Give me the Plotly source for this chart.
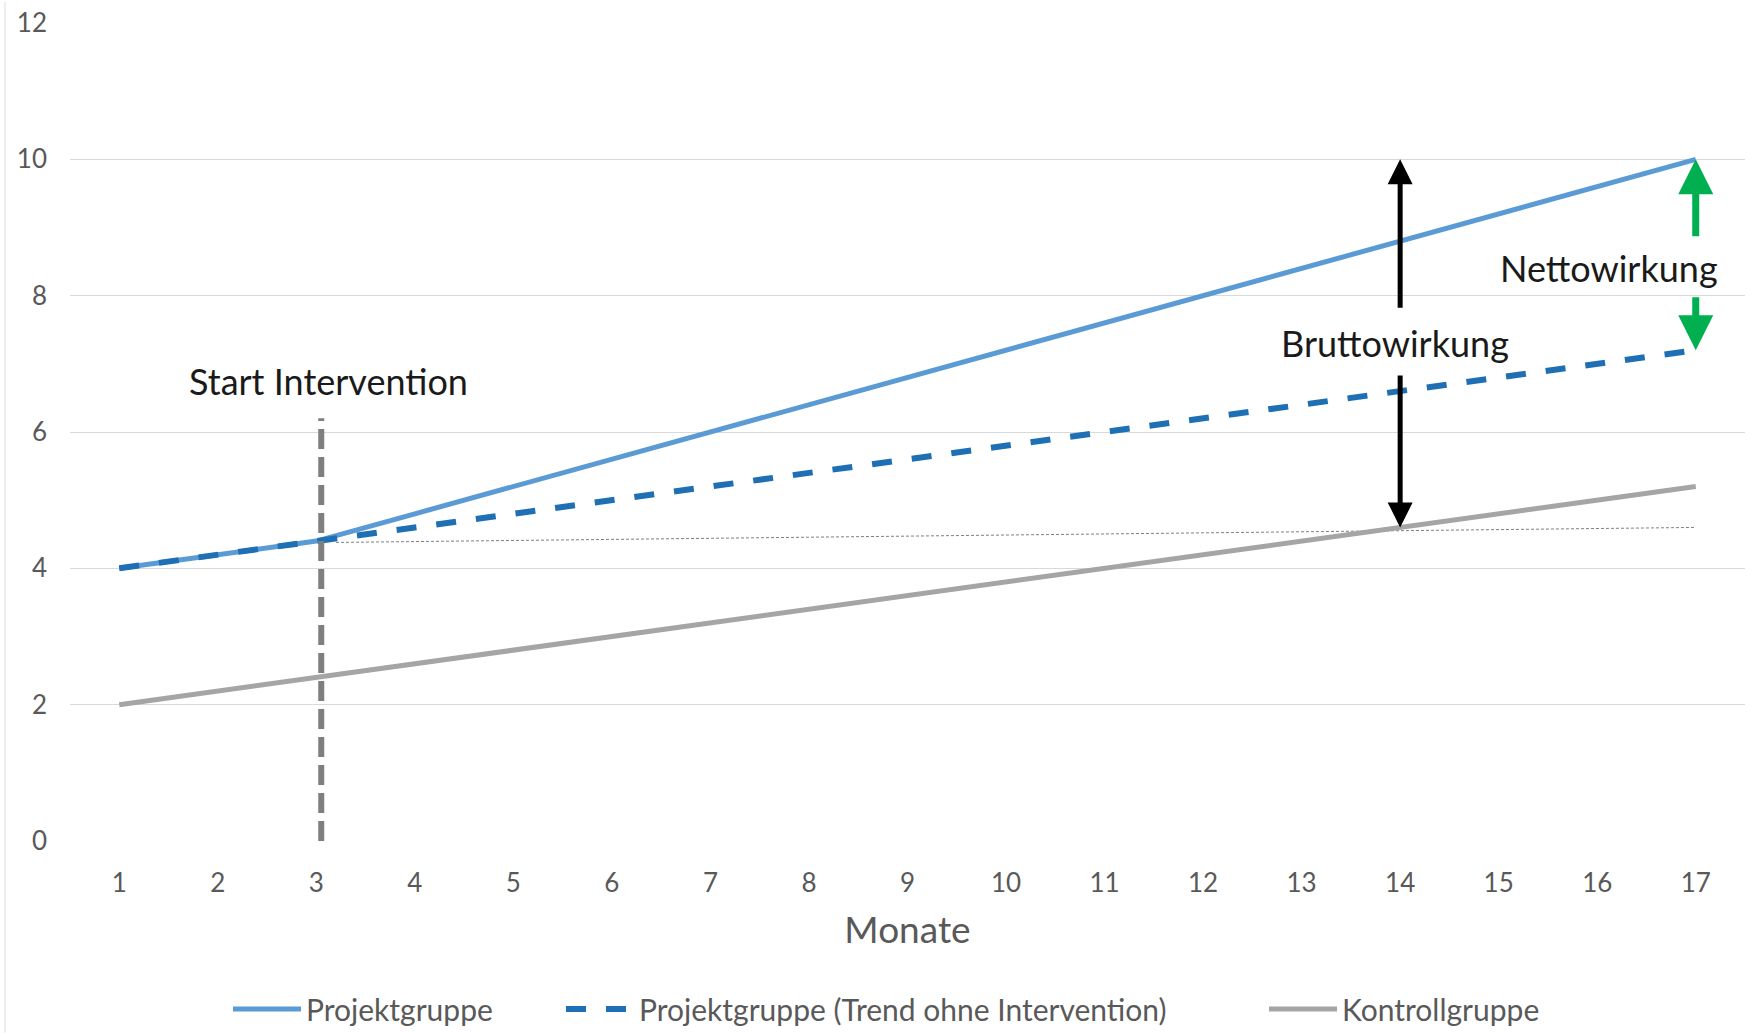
import plotly.graph_objects as go

# Months on the x axis
monate = list(range(1, 18))

# Series values per month
projektgruppe = [4.0, 4.2, 4.4, 4.8, 5.2, 5.6, 6.0, 6.4, 6.8, 7.2, 7.6, 8.0, 8.4, 8.8, 9.2, 9.6, 10.0]
trend_ohne = [4.0, 4.2, 4.4, 4.6, 4.8, 5.0, 5.2, 5.4, 5.6, 5.8, 6.0, 6.2, 6.4, 6.6, 6.8, 7.0, 7.2]
kontrollgruppe = [2.0, 2.2, 2.4, 2.6, 2.8, 3.0, 3.2, 3.4, 3.6, 3.8, 4.0, 4.2, 4.4, 4.6, 4.8, 5.0, 5.2]

# Thin reference line from the intervention start
ref_x = [3.2, 17]
ref_y = [4.38, 4.6]

# Intervention marker and effect arrows
start_monat = 3
start_top = 6.2
brutto_x = 14
brutto_top, brutto_bottom = 10.0, 4.6
brutto_label_y = 7.3
netto_x = 17
netto_top, netto_bottom = 10.0, 7.2
netto_label_y = 8.4

FONT = "Lato"
GRAY_TXT = "#595959"
ML, MR, MT, MB = 70, 6, 21, 192
W, H = 1751, 1033

fig = go.Figure()

fig.add_trace(go.Scatter(
    x=ref_x, y=ref_y, mode="lines", showlegend=False, hoverinfo="skip",
    line=dict(color="#7f7f7f", width=1, dash="3px,2px"),
))
fig.add_trace(go.Scatter(
    x=monate, y=kontrollgruppe, mode="lines", name="Kontrollgruppe",
    line=dict(color="#a5a5a5", width=5), legend="legend3",
))
fig.add_trace(go.Scatter(
    x=monate, y=projektgruppe, mode="lines", name="Projektgruppe",
    line=dict(color="#5b9bd5", width=5), legend="legend",
))
fig.add_trace(go.Scatter(
    x=monate, y=trend_ohne, mode="lines", name="Projektgruppe (Trend ohne Intervention)",
    line=dict(color="#1f6fb4", width=6, dash="20px,20px"), legend="legend2",
))

# Vertical dashed marker at the start of the intervention
fig.add_shape(
    type="line", xref="x", yref="y",
    x0=start_monat + 0.05, x1=start_monat + 0.05, y0=0, y1=start_top,
    line=dict(color="#7f7f7f", width=6, dash="20px,8px"),
)
# Faint outer chart border on the left
fig.add_shape(
    type="line", xref="paper", yref="paper",
    x0=(5 - ML) / (W - ML - MR), x1=(5 - ML) / (W - ML - MR),
    y0=-MB / (H - MT - MB), y1=1 + MT / (H - MT - MB),
    line=dict(color="#e8e8e8", width=1.5),
)

LBL = dict(family=FONT, size=36, color="#1a1a1a")
annotations = [
    dict(x=start_monat + 0.12, y=6.75, text="Start Intervention", showarrow=False, font=LBL),
    dict(x=brutto_x - 0.05, y=brutto_label_y, text="Bruttowirkung", showarrow=False, font=LBL),
    dict(x=16.12, y=netto_label_y, text="Nettowirkung", showarrow=False, font=LBL),
]

# Effect arrows (split around their labels)
arrow_specs = [
    (brutto_x, 7.8, brutto_x, brutto_top, "#000000", 5),
    (brutto_x, 6.85, brutto_x, brutto_bottom, "#000000", 5),
    (netto_x, 8.85, netto_x, netto_top, "#00b050", 7),
    (netto_x, 8.0, netto_x, netto_bottom, "#00b050", 7),
]
for ax, ay, x, y, col, w in arrow_specs:
    annotations.append(dict(
        x=x, y=y, ax=ax, ay=ay, xref="x", yref="y", axref="x", ayref="y",
        showarrow=True, arrowhead=2, arrowsize=1.0, arrowwidth=w, arrowcolor=col,
        standoff=0, startstandoff=0, text="",
    ))

# One legend per entry, placed side by side along the bottom
def legend_at(px):
    return dict(
        orientation="h", xref="container", yref="container",
        x=(px - 6) / W, xanchor="left", y=(H - 1009) / H, yanchor="middle",
        font=dict(family=FONT, size=30, color=GRAY_TXT),
        itemwidth=68, bgcolor="rgba(0,0,0,0)",
    )

fig.update_layout(
    width=W, height=H,
    margin=dict(l=ML, r=MR, t=MT, b=MB),
    paper_bgcolor="white", plot_bgcolor="white",
    font=dict(family=FONT, color=GRAY_TXT),
    annotations=annotations,
    legend=legend_at(234),
    legend2=legend_at(567),
    legend3=legend_at(1270),
    showlegend=True,
)

fig.update_xaxes(
    range=[0.5, 17.5], tickmode="array", tickvals=monate,
    showgrid=False, zeroline=False, showline=False,
    tickfont=dict(family=FONT, size=26, color=GRAY_TXT),
    ticklabelstandoff=24,
    title=dict(text="Monate", font=dict(family=FONT, size=37, color=GRAY_TXT), standoff=20),
)
fig.update_yaxes(
    range=[0, 12], dtick=2, tick0=0,
    showgrid=True, gridcolor="#d9d9d9", gridwidth=1,
    zeroline=False, showline=False,
    tickfont=dict(family=FONT, size=26, color=GRAY_TXT),
    ticklabelstandoff=22,
)

fig.write_html("out.html")
